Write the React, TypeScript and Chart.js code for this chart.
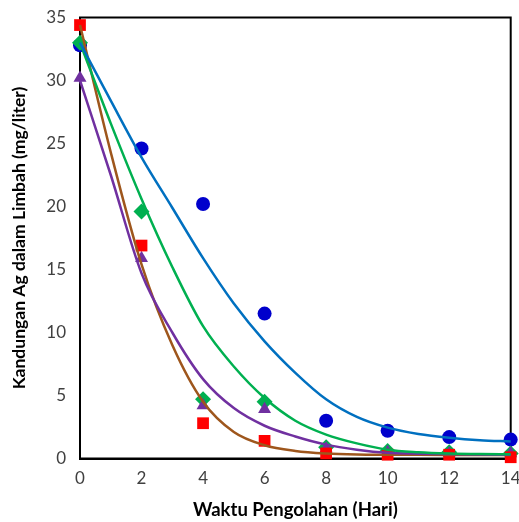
import React, { useEffect, useRef } from "react";
import { Chart, registerables } from "chart.js";

Chart.register(...registerables);

// Observation days
const days = [0, 2, 4, 6, 8, 10, 12, 14];
// Measured values (markers)
const blueObs = [32.8, 24.6, 20.2, 11.5, 3.0, 2.2, 1.7, 1.5];
const greenObs = [33.0, 19.6, 4.7, 4.5, 0.9, 0.6, 0.5, 0.4];
const redObs = [34.4, 16.9, 2.8, 1.4, 0.4, 0.3, 0.3, 0.1];
const purpleObs = [30.2, 15.9, 4.2, 3.9, 0.8, 0.5, 0.4, 0.4];

// Fitted curves
const curveDays = [0, 1, 2, 3, 4, 5, 6, 7, 8, 9, 10, 11, 12, 13, 14];
const blueFit = [33.0, 28.4, 23.9, 19.9, 15.9, 12.3, 9.3, 6.8, 4.7, 3.3, 2.45, 1.95, 1.65, 1.45, 1.35];
const greenFit = [33.0, 26.6, 20.6, 15.2, 10.5, 7.3, 4.8, 3.0, 1.9, 1.2, 0.7, 0.5, 0.4, 0.35, 0.33];
const brownFit = [34.4, 24.3, 15.4, 9.0, 4.5, 2.1, 1.05, 0.6, 0.4, 0.32, 0.3, 0.29, 0.28, 0.27, 0.27];
const purpleFit = [30.0, 22.5, 14.7, 10.0, 6.3, 4.0, 2.6, 1.75, 1.1, 0.7, 0.45, 0.38, 0.35, 0.32, 0.3];

const xTicks = [0, 2, 4, 6, 8, 10, 12, 14];
const yTicks = [0, 5, 10, 15, 20, 25, 30, 35];

const pts = (xs: number[], ys: number[]) => xs.map((x, i) => ({ x, y: ys[i] }));

const frame = {
  id: "frame",
  beforeDatasetsDraw(chart: any) {
    const { ctx, chartArea } = chart;
    ctx.save();
    ctx.strokeStyle = "#000";
    ctx.lineWidth = 2;
    ctx.strokeRect(chartArea.left, chartArea.top, chartArea.right - chartArea.left, chartArea.bottom - chartArea.top);
    ctx.restore();
  },
};

export default function App() {
  const ref = useRef<HTMLCanvasElement>(null);
  useEffect(() => {
    document.body.style.margin = "0";
    const font = "Lato, 'Open Sans', sans-serif";
    const line = (data: number[], color: string) => ({
      type: "line" as const,
      data: pts(curveDays, data),
      borderColor: color,
      backgroundColor: color,
      borderWidth: 2.5,
      pointRadius: 0,
      showLine: true,
      cubicInterpolationMode: "monotone" as const,
      fill: false,
      clip: false,
      order: 0,
    });
    const mark = (data: number[], color: string, style: string, r: number, order: number) => ({
      type: "scatter" as const,
      data: pts(days, data),
      backgroundColor: color,
      borderColor: color,
      borderWidth: 0,
      pointStyle: style,
      pointRadius: r,
      showLine: false,
      clip: false,
      order,
    });
    const chart = new Chart(ref.current!, {
      type: "scatter",
      data: {
        datasets: [
          line(blueFit, "#0070C0"),
          line(greenFit, "#00B050"),
          line(purpleFit, "#7030A0"),
          line(brownFit, "#9E561C"),
          mark(redObs, "#FF0000", "rect", 8.3, 1),
          mark(purpleObs, "#7030A0", "triangle", 7.5, 2),
          mark(greenObs, "#00B050", "rectRot", 8, 3),
          mark(blueObs, "#0000CC", "circle", 7, 4),
        ] as any,
      },
      options: {
        animation: false,
        responsive: false,
        events: [],
        layout: { padding: { top: 17.5, right: 7, left: 0, bottom: 0 } },
        plugins: { legend: { display: false }, tooltip: { enabled: false } },
        scales: {
          x: {
            type: "linear",
            min: 0,
            max: 14,
            afterBuildTicks: (s: any) => { s.ticks = xTicks.map((v) => ({ value: v })); },
            afterFit: (s: any) => { s.height = 63.5; s.paddingRight = 0; s.paddingLeft = 0; },
            grid: { display: false, drawTicks: false },
            border: { color: "#000", width: 2 },
            ticks: { color: "#404040", font: { family: font, size: 17 }, padding: 10, maxRotation: 0 },
            title: {
              display: true,
              text: "Waktu Pengolahan (Hari)",
              color: "#000",
              font: { family: font, size: 18.5, weight: "bold" },
              padding: { top: 0, bottom: 1 },
            },
          },
          y: {
            type: "linear",
            min: 0,
            max: 35,
            afterBuildTicks: (s: any) => { s.ticks = yTicks.map((v) => ({ value: v })); },
            afterFit: (s: any) => { s.width = 80; s.paddingTop = 0; s.paddingBottom = 0; },
            grid: { display: false, drawTicks: false },
            border: { color: "#000", width: 2 },
            ticks: { color: "#404040", font: { family: font, size: 17 }, padding: 14 },
            title: {
              display: true,
              text: "Kandungan Ag dalam Limbah (mg/liter)",
              color: "#000",
              font: { family: font, size: 17.5, weight: "bold" },
              padding: { top: 9, bottom: 0 },
            },
          },
        },
      } as any,
      plugins: [frame],
    });
    return () => chart.destroy();
  }, []);
  return (
    <div style={{ position: "absolute", left: 0, top: 0, width: 519, height: 522 }}>
      <canvas ref={ref} width={519} height={522} style={{ width: 519, height: 522 }} />
    </div>
  );
}
